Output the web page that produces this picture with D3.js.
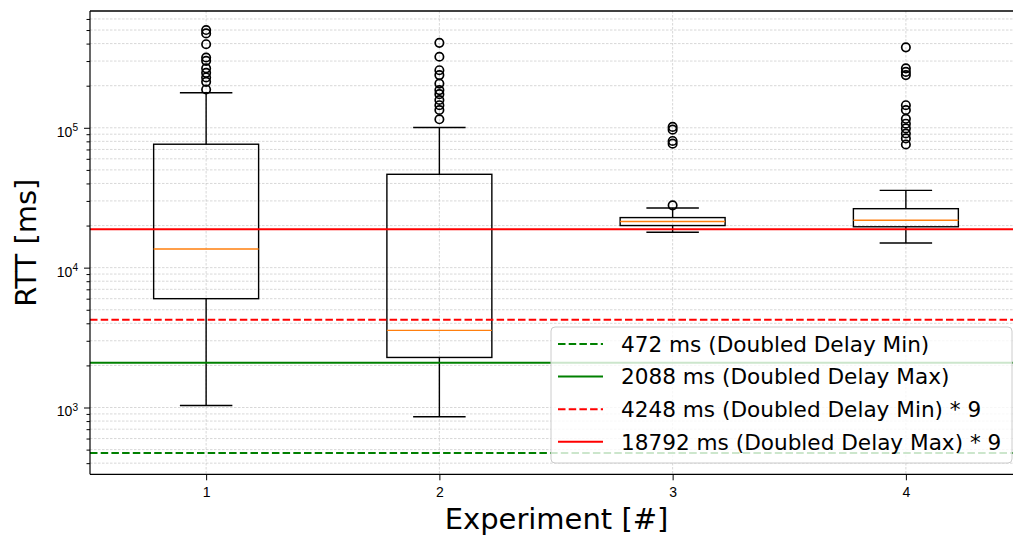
<!DOCTYPE html>
<html>
<head>
<meta charset="utf-8">
<script src="https://cdn.jsdelivr.net/npm/d3@7"></script>
<style>
  body { margin: 0; background: #fff; }
  svg { display: block; font-family: "DejaVu Sans", sans-serif; }
</style>
</head>
<body>
<svg id="chart"></svg>
<script>
// experiment numbers on the x axis
const experiments = [1, 2, 3, 4];

// box statistics per experiment (RTT in ms)
const whiskLow  = [1033, 859, 17900, 15000];
const quart1    = [6000, 2280, 20000, 19600];
const medians   = [13600, 3560, 21400, 21800];
const quart3    = [76300, 46500, 22800, 26400];
const whiskHigh = [178000, 100500, 26700, 35700];

// outliers per experiment
const fliers1 = [500000, 473000, 396000, 318000, 301000, 266000, 247000, 229000, 213000, 188000];
const fliers2 = [405000, 322000, 258000, 238000, 207000, 186000, 174000, 158000, 145000, 134000, 115000];
const fliers3 = [101500, 97000, 80500, 77000, 27900];
const fliers4 = [376000, 266000, 251000, 238000, 145000, 134000, 116000, 107000, 99000, 91000, 84000, 76000];
const fliers = [fliers1, fliers2, fliers3, fliers4];

// reference lines
const refValues = [472, 2088, 4248, 18792];
const refLabels = [
  "472 ms (Doubled Delay Min)",
  "2088 ms (Doubled Delay Max)",
  "4248 ms (Doubled Delay Min) * 9",
  "18792 ms (Doubled Delay Max) * 9"
];
const refColors = ["#008000", "#008000", "#ff0000", "#ff0000"];
const refDashed = [true, false, true, false];

// y axis ticks
const yMajor = [1e3, 1e4, 1e5];
const yExponents = ["3", "4", "5"];

const config = {
  width: 1013,
  height: 535,
  left: 90, right: 1023, top: 11, bottom: 474.3
};

const svg = d3.select("#chart")
  .attr("width", config.width)
  .attr("height", config.height);

const xScale = d3.scaleLinear()
  .domain([0.5, 4.5])
  .range([config.left - 0.5, config.right - 0.5]);

const yScale = d3.scaleLog()
  .domain([333, 684000])
  .range([config.bottom, config.top]);

// minor ticks 2..9 × 10^k within domain
const yMinor = [];
[100, 1000, 10000, 100000].forEach(p => {
  for (let m = 2; m <= 9; m++) {
    const v = m * p;
    if (v >= yScale.domain()[0] && v <= yScale.domain()[1]) yMinor.push(v);
  }
});

svg.append("defs").append("clipPath").attr("id", "plotclip")
  .append("rect")
  .attr("x", config.left).attr("y", config.top)
  .attr("width", config.width - config.left)
  .attr("height", config.bottom - config.top);

const plot = svg.append("g").attr("clip-path", "url(#plotclip)");

// grid
const gridStyle = sel => sel
  .attr("stroke", "#bdbdbd")
  .attr("stroke-width", 0.6)
  .attr("stroke-dasharray", "2.5,1.5");

plot.append("g").selectAll("line")
  .data(yMajor.concat(yMinor))
  .join("line")
  .attr("x1", config.left).attr("x2", config.width)
  .attr("y1", d => yScale(d)).attr("y2", d => yScale(d))
  .call(gridStyle);

plot.append("g").selectAll("line")
  .data(experiments)
  .join("line")
  .attr("x1", d => xScale(d)).attr("x2", d => xScale(d))
  .attr("y1", config.top).attr("y2", config.bottom)
  .call(gridStyle);

// boxes
const boxHalf = 0.225, capHalf = 0.1125;
const boxes = plot.append("g").selectAll("g")
  .data(experiments)
  .join("g");

boxes.append("line")
  .attr("x1", d => xScale(d)).attr("x2", d => xScale(d))
  .attr("y1", (d, i) => yScale(quart3[i])).attr("y2", (d, i) => yScale(whiskHigh[i]));
boxes.append("line")
  .attr("x1", d => xScale(d)).attr("x2", d => xScale(d))
  .attr("y1", (d, i) => yScale(quart1[i])).attr("y2", (d, i) => yScale(whiskLow[i]));
boxes.append("line")
  .attr("x1", d => xScale(d - capHalf)).attr("x2", d => xScale(d + capHalf))
  .attr("y1", (d, i) => yScale(whiskHigh[i])).attr("y2", (d, i) => yScale(whiskHigh[i]));
boxes.append("line")
  .attr("x1", d => xScale(d - capHalf)).attr("x2", d => xScale(d + capHalf))
  .attr("y1", (d, i) => yScale(whiskLow[i])).attr("y2", (d, i) => yScale(whiskLow[i]));
boxes.selectAll("line").attr("stroke", "#000").attr("stroke-width", 1.4);

boxes.append("rect")
  .attr("x", d => xScale(d - boxHalf))
  .attr("width", d => xScale(d + boxHalf) - xScale(d - boxHalf))
  .attr("y", (d, i) => yScale(quart3[i]))
  .attr("height", (d, i) => yScale(quart1[i]) - yScale(quart3[i]))
  .attr("fill", "none")
  .attr("stroke", "#000")
  .attr("stroke-width", 1.4);

boxes.append("line")
  .attr("x1", d => xScale(d - boxHalf)).attr("x2", d => xScale(d + boxHalf))
  .attr("y1", (d, i) => yScale(medians[i])).attr("y2", (d, i) => yScale(medians[i]))
  .attr("stroke", "#ff7f0e")
  .attr("stroke-width", 1.4);

boxes.each(function(d, i) {
  d3.select(this).selectAll("circle")
    .data(fliers[i])
    .join("circle")
    .attr("cx", xScale(d))
    .attr("cy", v => yScale(v))
    .attr("r", 4.2)
    .attr("fill", "none")
    .attr("stroke", "#000")
    .attr("stroke-width", 1.7);
});

// reference lines
plot.append("g").selectAll("line")
  .data(refValues)
  .join("line")
  .attr("x1", config.left).attr("x2", config.width)
  .attr("y1", d => yScale(d)).attr("y2", d => yScale(d))
  .attr("stroke", (d, i) => refColors[i])
  .attr("stroke-width", 2)
  .attr("stroke-dasharray", (d, i) => refDashed[i] ? "7.5,3.2" : null);

// axes
const yAxisG = svg.append("g")
  .attr("transform", `translate(${config.left},0)`)
  .call(d3.axisLeft(yScale).tickValues(yMajor).tickSize(6).tickPadding(6)
    .tickFormat(() => ""));
yAxisG.select(".domain").remove();
yAxisG.selectAll(".tick text")
  .attr("font-size", 14)
  .attr("fill", "#000")
  .attr("dy", "0.6em")
  .each(function(d, i) {
    const t = d3.select(this);
    t.append("tspan").text("10");
    t.append("tspan").attr("dy", "-0.55em").attr("font-size", "0.72em").text(yExponents[i]);
  });

const yMinorG = svg.append("g")
  .attr("transform", `translate(${config.left},0)`)
  .call(d3.axisLeft(yScale).tickValues(yMinor).tickSize(3.5).tickFormat(""));
yMinorG.select(".domain").remove();

const xAxisG = svg.append("g")
  .attr("transform", `translate(0,${config.bottom})`)
  .call(d3.axisBottom(xScale).tickValues(experiments).tickSize(6).tickPadding(7)
    .tickFormat(d3.format("d")));
xAxisG.select(".domain").remove();
xAxisG.selectAll(".tick text").attr("font-size", 14).attr("fill", "#000");

svg.selectAll(".tick line").attr("stroke", "#000").attr("stroke-width", 1);

// spines
svg.append("line")
  .attr("x1", config.left).attr("x2", config.left)
  .attr("y1", config.top).attr("y2", config.bottom)
  .attr("stroke", "#000").attr("stroke-width", 1.2);
svg.append("line")
  .attr("x1", config.left).attr("x2", config.width)
  .attr("y1", config.bottom).attr("y2", config.bottom)
  .attr("stroke", "#000").attr("stroke-width", 1.2);
svg.append("line")
  .attr("x1", config.left).attr("x2", config.width)
  .attr("y1", config.top).attr("y2", config.top)
  .attr("stroke", "#000").attr("stroke-width", 1.4);

// axis labels
svg.append("text")
  .attr("x", (config.left + config.right) / 2)
  .attr("y", 529)
  .attr("text-anchor", "middle")
  .attr("font-size", 29)
  .text("Experiment [#]");

svg.append("text")
  .attr("transform", `translate(36,${(config.top + config.bottom) / 2}) rotate(-90)`)
  .attr("text-anchor", "middle")
  .attr("font-size", 29)
  .text("RTT [ms]");

// legend
const legend = svg.append("g").attr("transform", "translate(551,327)");
legend.append("rect")
  .attr("width", 461).attr("height", 136)
  .attr("rx", 4)
  .attr("fill", "#fff").attr("fill-opacity", 0.8)
  .attr("stroke", "#cccccc").attr("stroke-width", 1);

const entries = legend.selectAll("g.entry")
  .data(refLabels)
  .join("g")
  .attr("class", "entry")
  .attr("transform", (d, i) => `translate(0,${17 + i * 32.6})`);
entries.append("line")
  .attr("x1", 7).attr("x2", 52)
  .attr("stroke", (d, i) => refColors[i])
  .attr("stroke-width", 2)
  .attr("stroke-dasharray", (d, i) => refDashed[i] ? "7.5,3.2" : null);
entries.append("text")
  .attr("x", 70)
  .attr("dy", "0.36em")
  .attr("font-size", 21.6)
  .attr("fill", "#000")
  .text(d => d);
</script>
</body>
</html>
